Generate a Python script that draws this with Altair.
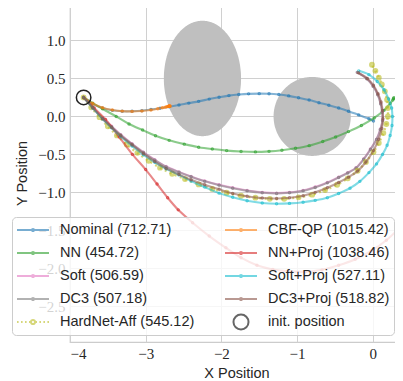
import altair as alt
import numpy as np
import pandas as pd

# ---------------- data ----------------
start_x = [-3.82]
start_y = [0.25]

nominal_x = [-3.82, -3.70, -3.57, -3.44, -3.31, -3.18, -3.05, -2.93, -2.81, -2.69, -2.56, -2.43, -2.30, -2.16,
             -2.03, -1.90, -1.77, -1.64, -1.50, -1.37, -1.24, -1.11, -0.98, -0.84, -0.71, -0.58, -0.45, -0.32,
             -0.185, -0.05, 0.01]
nominal_y = [0.25, 0.165, 0.11, 0.08, 0.068, 0.068, 0.075, 0.09, 0.108, 0.128, 0.15, 0.175, 0.198, 0.228,
             0.253, 0.274, 0.288, 0.297, 0.30, 0.298, 0.288, 0.27, 0.245, 0.215, 0.18, 0.148, 0.11, 0.068,
             0.02, -0.03, -0.06]

cbf_x = [-3.82, -3.70, -3.57, -3.44, -3.31, -3.18, -3.05, -2.93, -2.84, -2.78, -2.74, -2.72, -2.705, -2.695,
         -2.69, -2.685, -2.68, -2.678]
cbf_y = [0.25, 0.17, 0.115, 0.085, 0.07, 0.066, 0.072, 0.085, 0.10, 0.113, 0.122, 0.128, 0.132, 0.135,
         0.137, 0.138, 0.136, 0.133]

nn_x = [-3.82, -3.70, -3.57, -3.39, -3.22, -3.04, -2.87, -2.69, -2.49, -2.30, -2.12, -1.93, -1.74, -1.55,
        -1.37, -1.20, -1.02, -0.84, -0.66, -0.49, -0.32, -0.15, 0.02, 0.15, 0.23, 0.265, 0.275, 0.28]
nn_y = [0.25, 0.175, 0.10, 0.0, -0.10, -0.18, -0.255, -0.315, -0.365, -0.405, -0.43, -0.45, -0.462, -0.467,
        -0.46, -0.445, -0.42, -0.385, -0.33, -0.27, -0.20, -0.12, -0.02, 0.08, 0.17, 0.215, 0.235, 0.245]

nnproj_x = [-3.82, -3.68, -3.53, -3.35, -3.175, -3.0, -2.85, -2.71, -2.57, -2.38, -2.16, -1.94, -1.74, -1.53,
            -1.32, -1.11, -0.89, -0.67, -0.45, -0.23, -0.02, 0.18, 0.36, 0.52]
nnproj_y = [0.25, 0.11, -0.04, -0.27, -0.50, -0.70, -0.89, -1.07, -1.23, -1.40, -1.575, -1.73, -1.86, -1.96,
            -2.015, -2.04, -2.045, -2.02, -1.96, -1.88, -1.77, -1.63, -1.46, -1.27]

soft_x = [-3.82, -3.70, -3.57, -3.45, -3.33, -3.18, -3.03, -2.88, -2.73, -2.56, -2.40, -2.22, -2.03, -1.85,
          -1.66, -1.46, -1.27, -1.10, -0.92, -0.76, -0.60, -0.45, -0.33, -0.22, -0.12, -0.03, 0.05, 0.10,
          0.13, 0.125, 0.105, 0.065, 0.005, -0.08, -0.20]
soft_y = [0.25, 0.12, -0.02, -0.13, -0.24, -0.36, -0.47, -0.57, -0.66, -0.73, -0.79, -0.85, -0.90, -0.94,
          -0.975, -1.0, -1.01, -1.0, -0.975, -0.93, -0.87, -0.80, -0.74, -0.675, -0.56, -0.43, -0.30, -0.17,
          -0.05, 0.06, 0.17, 0.29, 0.40, 0.50, 0.58]

dc3_x = [-3.82, -3.70, -3.57, -3.45, -3.33, -3.18, -3.03, -2.88, -2.73, -2.56, -2.40, -2.22, -2.03, -1.85,
         -1.66, -1.46, -1.27, -1.10, -0.92, -0.76, -0.60, -0.45, -0.33, -0.22, -0.12, -0.03, 0.05, 0.10,
         0.13, 0.125, 0.105, 0.066, 0.006, -0.08, -0.205]
dc3_y = [0.25, 0.118, -0.025, -0.135, -0.245, -0.365, -0.475, -0.575, -0.665, -0.735, -0.795, -0.855, -0.905,
         -0.945, -0.98, -1.005, -1.015, -1.005, -0.98, -0.935, -0.875, -0.805, -0.745, -0.68, -0.565, -0.435,
         -0.305, -0.175, -0.055, 0.055, 0.165, 0.285, 0.395, 0.495, 0.58]

softproj_x = [-3.82, -3.70, -3.57, -3.45, -3.33, -3.18, -3.03, -2.88, -2.73, -2.56, -2.40, -2.22, -2.03, -1.85,
              -1.66, -1.46, -1.27, -1.10, -0.92, -0.76, -0.60, -0.45, -0.30, -0.17, -0.05, 0.05, 0.13, 0.19,
              0.23, 0.255, 0.26, 0.25, 0.21, 0.15, 0.06, -0.05, -0.185]
softproj_y = [0.25, 0.11, -0.035, -0.15, -0.265, -0.39, -0.505, -0.605, -0.69, -0.77, -0.85, -0.93, -1.01, -1.065,
              -1.11, -1.14, -1.15, -1.145, -1.13, -1.105, -1.07, -1.015, -0.945, -0.855, -0.74, -0.625, -0.50,
              -0.38, -0.25, -0.12, 0.0, 0.11, 0.23, 0.35, 0.46, 0.55, 0.60]

dc3proj_x = [-3.82, -3.70, -3.57, -3.45, -3.33, -3.18, -3.03, -2.88, -2.73, -2.56, -2.40, -2.22, -2.03, -1.85,
             -1.66, -1.46, -1.27, -1.10, -0.92, -0.76, -0.60, -0.45, -0.32, -0.20, -0.09, 0.01, 0.08, 0.12,
             0.135, 0.13, 0.11, 0.07, 0.01, -0.07, -0.19]
dc3proj_y = [0.25, 0.115, -0.03, -0.145, -0.255, -0.375, -0.49, -0.595, -0.685, -0.765, -0.835, -0.90, -0.96,
             -1.015, -1.05, -1.075, -1.08, -1.07, -1.045, -1.0, -0.94, -0.87, -0.80, -0.72, -0.60, -0.45,
             -0.30, -0.16, -0.03, 0.08, 0.19, 0.30, 0.41, 0.50, 0.575]

hardnet_x = [-3.82, -3.72, -3.61, -3.50, -3.38, -3.25, -3.11, -2.96, -2.81, -2.65, -2.48, -2.30, -2.12, -1.93,
             -1.74, -1.55, -1.36, -1.17, -0.98, -0.80, -0.63, -0.47, -0.33, -0.20, -0.09, 0.01, 0.08, 0.14,
             0.18, 0.20, 0.20, 0.19, 0.16, 0.12, 0.08, 0.035, -0.01]
hardnet_y = [0.25, 0.12, -0.01, -0.13, -0.25, -0.37, -0.48, -0.585, -0.675, -0.755, -0.825, -0.895, -0.955,
             -1.005, -1.045, -1.07, -1.085, -1.085, -1.065, -1.03, -0.97, -0.90, -0.815, -0.715, -0.60, -0.47,
             -0.35, -0.22, -0.10, 0.0, 0.11, 0.22, 0.33, 0.42, 0.51, 0.60, 0.68]

# obstacles: centre and half-axes
obs_cx = [-2.25, -0.80]
obs_cy = [0.50, 0.0]
obs_rx = [0.51, 0.51]
obs_ry = [0.76, 0.52]

# legend order (filled column by column, 2 columns) and colours
legend_order = ["Nominal (712.71)", "NN (454.72)", "Soft (506.59)", "DC3 (507.18)",
                "HardNet-Aff (545.12)", "CBF-QP (1015.42)", "NN+Proj (1038.46)",
                "Soft+Proj (527.11)", "DC3+Proj (518.82)", "init. position"]
legend_colors = ["#1f77b4", "#2ca02c", "#e377c2", "#7f7f7f", "#bcbd22", "#ff7f0e", "#d62728",
                 "#17becf", "#8c564b", "#000000"]

# drawing order
traj = [
    ("Nominal (712.71)", nominal_x, nominal_y),
    ("NN (454.72)", nn_x, nn_y),
    ("Soft (506.59)", soft_x, soft_y),
    ("DC3 (507.18)", dc3_x, dc3_y),
    ("HardNet-Aff (545.12)", hardnet_x, hardnet_y),
    ("CBF-QP (1015.42)", cbf_x, cbf_y),
    ("NN+Proj (1038.46)", nnproj_x, nnproj_y),
    ("Soft+Proj (527.11)", softproj_x, softproj_y),
    ("DC3+Proj (518.82)", dc3proj_x, dc3proj_y),
]

rows = []
for name, xs, ys in traj:
    for i, (x, y) in enumerate(zip(xs, ys)):
        rows.append({"series": name, "i": i, "x": x, "y": y})
df = pd.DataFrame(rows)

obs_rows = []
theta = np.linspace(0, np.pi, 121)
for k, (cx, cy, rx, ry) in enumerate(zip(obs_cx, obs_cy, obs_rx, obs_ry)):
    for t in theta:
        obs_rows.append({"obs": k, "x": cx + rx * np.cos(t),
                         "y1": cy + ry * np.sin(t), "y2": cy - ry * np.sin(t)})
obs_df = pd.DataFrame(obs_rows)

init_df = pd.DataFrame({"x": start_x, "y": start_y})
legend_df = pd.DataFrame({"series": legend_order})

# ---------------- encodings ----------------
xscale = alt.Scale(domain=[-4.0, 0.4], nice=False, zero=False)
yscale = alt.Scale(domain=[-2.97, 1.48], nice=False, zero=False)
xaxis = alt.Axis(values=[-4, -3, -2, -1, 0], format="d", title="X Position",
                 labelPadding=4, titlePadding=5)
yaxis = alt.Axis(values=[-2.5, -2.0, -1.5, -1.0, -0.5, 0.0, 0.5, 1.0], format=".1f",
                 title="Y Position", labelPadding=5, titlePadding=8)
X = alt.X("x:Q", scale=xscale, axis=xaxis)
Y = alt.Y("y:Q", scale=yscale, axis=yaxis)
cscale = alt.Scale(domain=legend_order, range=legend_colors)

line_path = "M-1,0H1M-0.07,0A0.07,0.07 0 1,0 0.07,0A0.07,0.07 0 1,0 -0.07,0"
dot_path = ("M-1,0h0.1M-0.75,0h0.1M-0.5,0h0.1M-0.25,0h0.1M0.15,0h0.1M0.4,0h0.1M0.65,0h0.1M0.9,0h0.1"
            "M-0.13,0A0.13,0.13 0 1,0 0.13,0A0.13,0.13 0 1,0 -0.13,0")
circ_path = "M-0.47,0A0.47,0.47 0 1,0 0.47,0A0.47,0.47 0 1,0 -0.47,0"
shape_range = [line_path] * 4 + [dot_path] + [line_path] * 4 + [circ_path]

leg = alt.Legend(
    title=None, orient="none", legendX=-58, legendY=213, columns=2,
    symbolSize=1024, symbolStrokeWidth=2, symbolOpacity=0.6, symbolFillColor="transparent",
    clipHeight=18, rowPadding=5, columnPadding=29, labelOffset=10, padding=4,
    labelFont="Liberation Sans", labelFontSize=14.5, labelColor="#262626", labelLimit=400,
    fillColor="rgba(255,255,255,0.8)", strokeColor="#cccccc", cornerRadius=4,
)

layers = []
# legend carrier first, so that its legend settings win when legends are merged
layers.append(
    alt.Chart(legend_df).mark_point(opacity=0, filled=False).encode(
        color=alt.Color("series:N", scale=cscale, legend=leg),
        shape=alt.Shape("series:N", scale=alt.Scale(domain=legend_order, range=shape_range), legend=leg),
    )
)
layers.append(
    alt.Chart(obs_df).mark_area(color="#bfbfbf", opacity=1, clip=True).encode(
        x=X, y=alt.Y("y1:Q", scale=yscale, axis=yaxis), y2="y2:Q", detail="obs:N"
    )
)

for name, _, _ in traj:
    base = alt.Chart(df).transform_filter(alt.datum.series == name)
    col = alt.Color("series:N", scale=cscale, legend=None)
    if name.startswith("HardNet"):
        ln = base.mark_line(strokeWidth=2.4, opacity=0.6, strokeDash=[2, 3.5],
                            interpolate="catmull-rom", clip=True)
        dt = base.mark_point(shape="circle", filled=False, size=7, strokeWidth=3.2, opacity=0.6, clip=True)
    else:
        ln = base.mark_line(strokeWidth=2.1, opacity=0.55, interpolate="catmull-rom", clip=True)
        dt = base.mark_point(shape="circle", filled=False, size=1.5, strokeWidth=2.2, opacity=0.65, clip=True)
    layers.append(ln.encode(x=X, y=Y, order="i:Q", color=col))
    layers.append(dt.encode(x=X, y=Y, color=col))

layers.append(
    alt.Chart(init_df).mark_point(shape="circle", size=210, filled=False, strokeWidth=1.5,
                                  color="#222222", opacity=1).encode(x=X, y=Y)
)

chart = alt.layer(*layers).properties(
    width=333, height=338,
    padding={"left": 62, "top": -4, "right": -8, "bottom": 38},
    autosize=alt.AutoSizeParams(type="none"),
).configure_view(
    stroke="#cccccc", strokeWidth=1.25
).configure_axis(
    grid=True, gridColor="#d0d0d0", gridWidth=1, domain=False, ticks=False,
    labelFont="Liberation Serif", labelFontSize=15, labelColor="#262626",
    titleFont="Liberation Sans", titleFontSize=14.5, titleFontWeight="normal", titleColor="#262626",
)

chart.save("out.html", embed_options={"renderer": "svg", "actions": False})
